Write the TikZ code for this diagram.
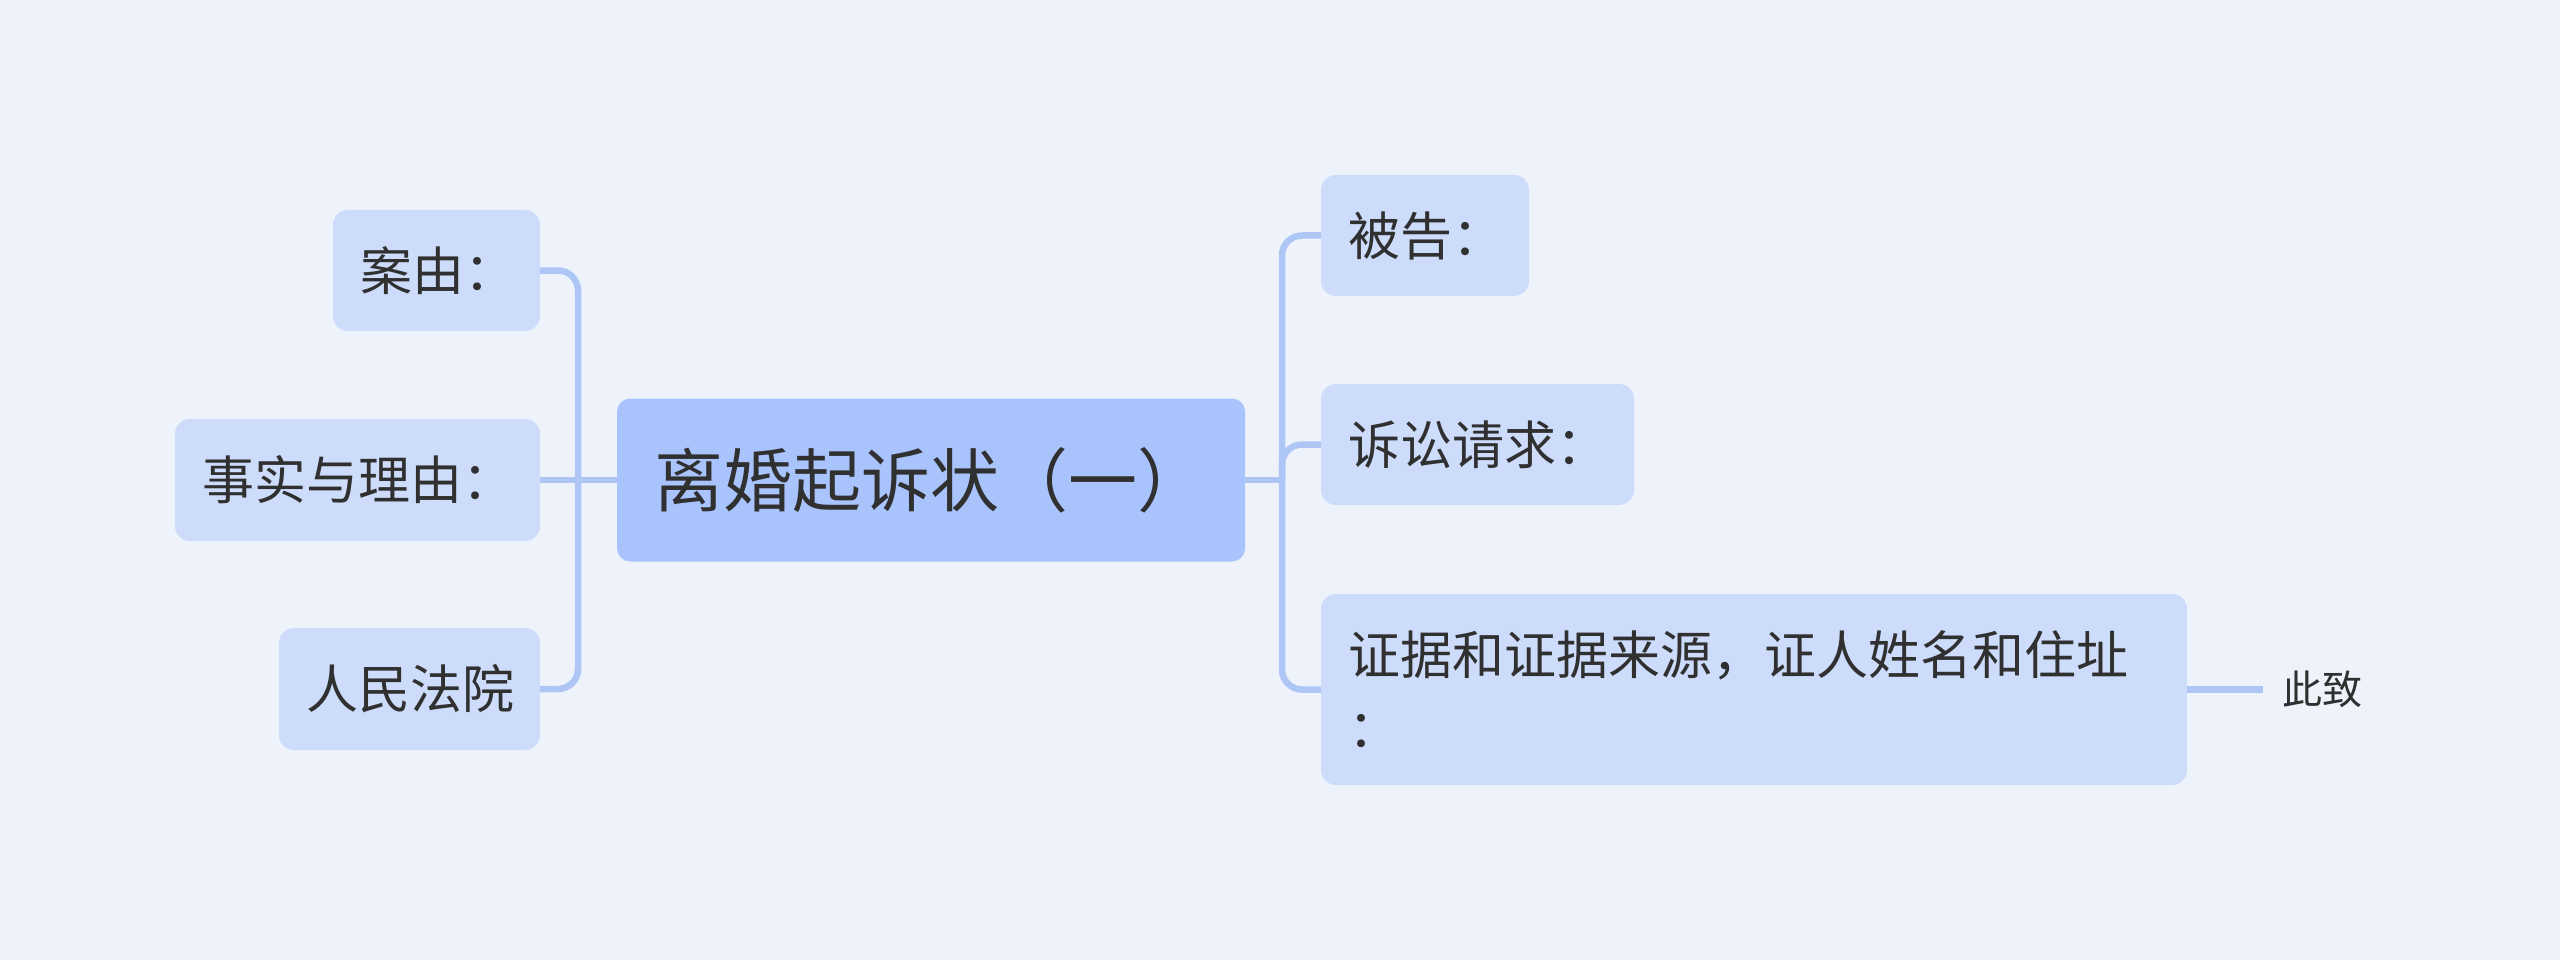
\documentclass[tikz,border=0pt]{standalone}
\usepackage{fontspec}
\newfontfamily\cjk{Noto Sans CJK SC}
\definecolor{bgc}{RGB}{238,243,251}
\definecolor{childc}{RGB}{204,220,250}
\definecolor{rootc}{RGB}{169,196,252}
\definecolor{linec}{RGB}{174,198,246}
\definecolor{txt}{RGB}{48,48,48}
\tikzset{
  box/.style={rounded corners=15pt, fill=childc, text=txt, inner xsep=27pt, inner ysep=0pt,
    minimum height=121pt, align=left, font=\cjk\fontsize{52}{73}\selectfont},
  rootbox/.style={rounded corners=13pt, fill=rootc, text=txt, inner xsep=37pt, inner ysep=0pt,
    minimum height=163pt, align=left, font=\cjk\fontsize{69}{80}\selectfont},
  conn/.style={draw=linec, line width=6.5pt, rounded corners=20pt},
  plain/.style={text=txt, inner sep=0pt, font=\cjk\fontsize{40}{48}\selectfont}
}
\begin{document}
\begin{tikzpicture}[x=1pt,y=-1pt]
\fill[bgc] (0,0) rectangle (2560,960);
\useasboundingbox (0,0) rectangle (2560,960);
% nodes
\node[rootbox, text width=554pt] (root) at (931,480) {离婚起诉状（一）};
\node[box, text width=153pt] (anyou) at (436.5,270.5) {案由：};
\node[box, text width=311pt, minimum height=122pt] (shishi) at (357.5,480) {事实与理由：};
\node[box, text width=207pt, minimum height=122pt] (fayuan) at (409.5,689) {人民法院};
\node[box, text width=154pt] (beigao) at (1425,235.5) {被告：};
\node[box, text width=259pt] (susong) at (1477.5,444.5) {诉讼请求：};
\node[box, text width=812pt, minimum height=191pt] (zhengju) at (1754,689.5) {证据和证据来源，证人姓名和住址\\：};
\node[plain, anchor=west] (cizhi) at (2282,689.5) {此致};
\coordinate (lbus) at (578,480);
\coordinate (rbus) at (1282,480);
\coordinate (cend) at (2263,689.5);
% connectors
\draw[conn] (anyou.east) -| (lbus) |- (fayuan.east);
\draw[conn] (root.west) -- (shishi.east);
\draw[conn] (beigao.west) -| (rbus) |- (zhengju.west);
\draw[conn] (rbus) |- (susong.west);
\draw[conn] (root.east) -- (rbus);
\draw[conn] (zhengju.east) -- (cend);
\end{tikzpicture}
\end{document}
